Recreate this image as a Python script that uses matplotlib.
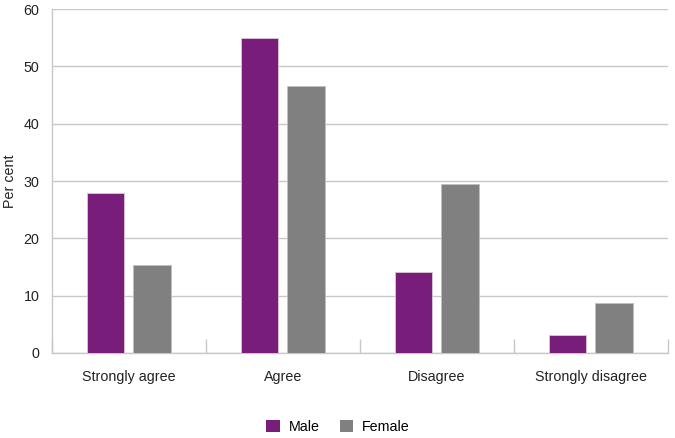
import matplotlib.pyplot as plt
import numpy as np
from matplotlib.patches import Patch

plt.rcParams["font.family"] = ["Liberation Sans", "DejaVu Sans"]

categories = ["Strongly agree", "Agree", "Disagree", "Strongly disagree"]
male = [27.9, 55.0, 14.1, 3.1]
female = [15.3, 46.5, 29.4, 8.8]

purple = "#791d7b"
grey = "#808080"
grid = "#c8c8c8"
fs = 10.3

fig = plt.figure(figsize=(6.75, 4.38), dpi=100)
ax = fig.add_axes([52 / 675, 1 - 353 / 438, 616 / 675, 344 / 438])

x = np.arange(len(categories))
w = 0.242
ax.bar(x - 0.152, male, width=w, color=purple, edgecolor="#d8c8d8", linewidth=0.6, label="Male", zorder=3)
ax.bar(x + 0.150, female, width=w, color=grey, edgecolor="#c0c0c0", linewidth=0.6, label="Female", zorder=3)

ax.set_xlim(-0.5, len(categories) - 0.5)
ax.set_ylim(0, 60)
ax.set_yticks(range(0, 61, 10))
ax.yaxis.grid(True, color=grid, linewidth=1, zorder=0)
ax.set_axisbelow(True)

for side in ["top", "right"]:
    ax.spines[side].set_visible(False)
ax.spines["left"].set_color(grid)
ax.spines["bottom"].set_color(grid)
ax.spines["left"].set_linewidth(1)
ax.spines["bottom"].set_linewidth(1)

ax.set_xticks(x)
ax.set_xticklabels(categories, fontsize=fs, color="#222222")
ax.tick_params(axis="x", length=0, pad=12)
ax.set_xticks(np.arange(len(categories) + 1) - 0.5, minor=True)
ax.tick_params(axis="x", which="minor", direction="in", length=10, color=grid, width=1)
ax.tick_params(axis="y", length=0, pad=9, labelsize=fs, labelcolor="#222222")

ax.set_ylabel("Per cent", fontsize=fs, color="#222222")
ax.yaxis.set_label_coords(-0.057, 0.5)

handles = [Patch(facecolor=purple, label="Male"), Patch(facecolor=grey, label="Female")]
fig.legend(handles=handles, loc="center", bbox_to_anchor=(338 / 675, 1 - 427 / 438), ncol=2,
           frameon=False, fontsize=fs, handlelength=0.95, handleheight=0.95,
           handletextpad=0.6, columnspacing=1.4)

fig.savefig("out.png", dpi=100)
